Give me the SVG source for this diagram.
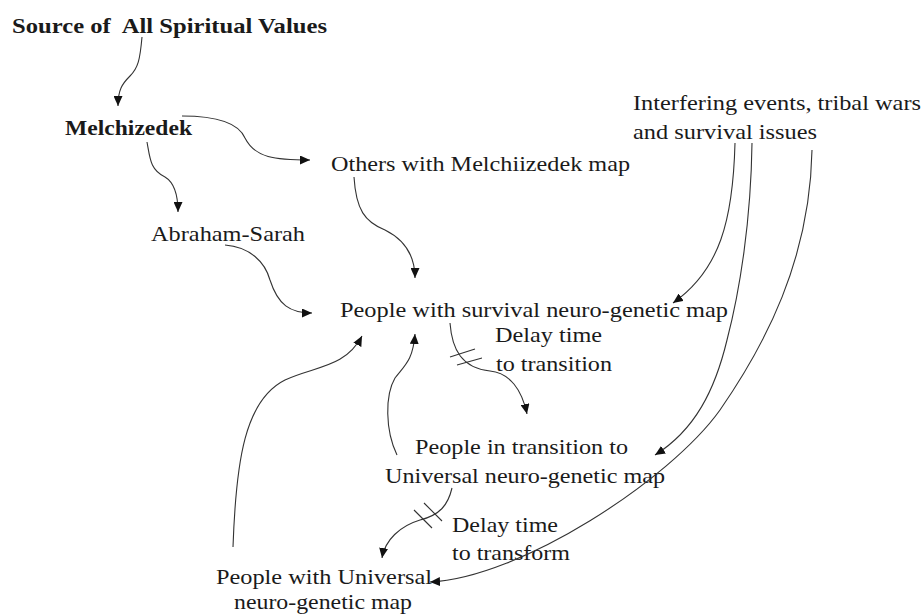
<svg xmlns="http://www.w3.org/2000/svg" width="924" height="616" viewBox="0 0 924 616">
<style>
text{font-family:"Times New Roman","Liberation Serif",Times,serif;font-size:22px;fill:#1a1a1a}
.b{font-weight:bold}
.c{fill:none;stroke:#333;stroke-width:1.1}
.m{fill:none;stroke:#333;stroke-width:1.1}
</style>
<defs>
<marker id="ah" markerUnits="userSpaceOnUse" markerWidth="10" markerHeight="9" refX="10" refY="4.5" orient="auto">
<path d="M0,0 L10,4.5 L0,9 z" fill="#111"/>
</marker>
</defs>
<rect width="924" height="616" fill="#fff"/>
<g id="source"><text class="b" x="12" y="33" textLength="315" lengthAdjust="spacingAndGlyphs" xml:space="preserve">Source of  All Spiritual Values</text></g>
<g id="melchizedek"><text class="b" x="65" y="135" textLength="127" lengthAdjust="spacingAndGlyphs">Melchizedek</text></g>
<g id="others"><text x="331" y="171" textLength="299" lengthAdjust="spacingAndGlyphs">Others with Melchiizedek map</text></g>
<g id="abraham"><text x="151" y="241" textLength="154" lengthAdjust="spacingAndGlyphs">Abraham-Sarah</text></g>
<g id="interfering"><text x="633" y="110" textLength="288" lengthAdjust="spacingAndGlyphs">Interfering events, tribal wars</text><text x="633" y="139" textLength="184" lengthAdjust="spacingAndGlyphs">and survival issues</text></g>
<g id="survival"><text x="340" y="317" textLength="388" lengthAdjust="spacingAndGlyphs">People with survival neuro-genetic map</text></g>
<g id="delay1"><text x="495" y="342" textLength="107" lengthAdjust="spacingAndGlyphs">Delay time</text><text x="496" y="371" textLength="116" lengthAdjust="spacingAndGlyphs">to transition</text></g>
<g id="transition"><text x="415" y="454" textLength="213" lengthAdjust="spacingAndGlyphs">People in transition to</text><text x="385" y="483" textLength="280" lengthAdjust="spacingAndGlyphs">Universal neuro-genetic map</text></g>
<g id="delay2"><text x="452" y="532" textLength="106" lengthAdjust="spacingAndGlyphs">Delay time</text><text x="452" y="560" textLength="118" lengthAdjust="spacingAndGlyphs">to transform</text></g>
<g id="universal"><text x="216" y="584" textLength="216" lengthAdjust="spacingAndGlyphs">People with Universal</text><text x="234" y="609" textLength="178" lengthAdjust="spacingAndGlyphs">neuro-genetic map</text></g>
<g id="connectors">
<path class="c" marker-end="url(#ah)" d="M142,37 C140,60 138,68 130,76 C122,84 118,90 118,106"/>
<path class="c" marker-end="url(#ah)" d="M182,116 C215,116 238,122 245,138 C255,158 275,160 310,160"/>
<path class="c" marker-end="url(#ah)" d="M147,142 C150,158 150,170 165,177 C175,183 178,195 178,212"/>
<path class="c" marker-end="url(#ah)" d="M225,245 C250,247 265,262 270,280 C278,305 290,313 312,313"/>
<path class="c" marker-end="url(#ah)" d="M354,177 C356,210 365,222 385,230 C405,240 415,255 415,278"/>
<path class="c" marker-end="url(#ah)" d="M735,143 C733,220 720,270 673,303"/>
<path class="c" marker-end="url(#ah)" d="M752,143 C751,220 740,290 727,340 C715,390 695,430 655,455"/>
<path class="c" marker-end="url(#ah)" d="M812,150 C810,260 765,345 720,410 C670,480 520,578 430,582"/>
<path class="c" marker-end="url(#ah)" d="M450,323 C452,350 462,368 490,371 C510,373 522,390 527,414"/>
<path class="c" marker-end="url(#ah)" d="M397,455 C385,430 385,395 395,378 C405,365 413,360 415,334"/>
<path class="c" marker-end="url(#ah)" d="M233,547 C236,460 245,400 285,380 C315,366 345,368 362,336"/>
<path class="c" marker-end="url(#ah)" d="M452,488 C448,505 440,515 420,520 C400,526 385,540 382,558"/>
<path class="m" d="M450,357 L475,349 M457,365 L482,358"/>
<path class="m" d="M414,510 L432,528 M424,503 L442,521"/>
</g>
</svg>
